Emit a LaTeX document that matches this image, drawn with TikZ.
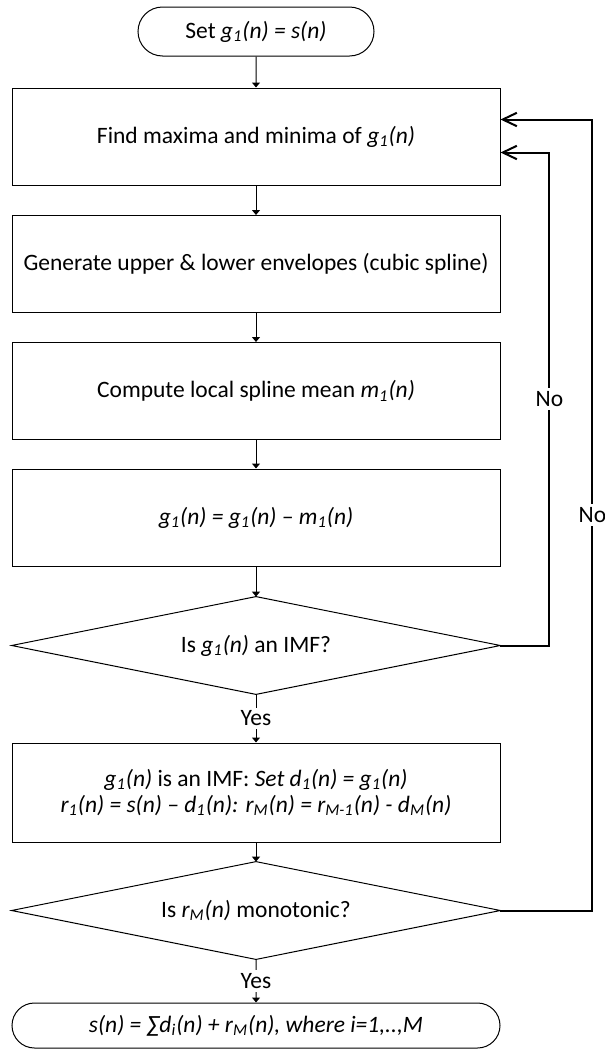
\documentclass[tikz,border=0pt]{standalone}
\usepackage{fontspec}
\setmainfont{Carlito}
\usetikzlibrary{arrows.meta,shapes.misc,calc}
\newcommand{\lsub}[1]{\textsubscript{#1}}
\begin{document}
\begin{tikzpicture}[x=0.5pt,y=-0.5pt,
  every node/.style={font=\fontsize{11.75}{13}\selectfont},
  box/.style={draw, line width=0.5pt, minimum width=244pt, minimum height=48.5pt, inner sep=0pt, align=center},
  term/.style={draw, line width=0.5pt, rounded rectangle, inner sep=0pt, align=center},
  dia/.style={inner sep=0pt, minimum width=244pt, minimum height=48.5pt, align=center},
  arr/.style={-{Triangle[width=4pt,length=2.5pt]}, line width=0.5pt},
  fb/.style={-{Straight Barb[length=7pt,width=6.7pt]}, line width=1pt},
  lbl/.style={fill=white, inner sep=1.5pt}
]
\useasboundingbox (0,0) rectangle (605,1050);
\node[term, minimum width=118pt, minimum height=24.5pt] (t1) at (256,31.5) {Set \textit{g\lsub{1}(n) = s(n)}};
\node[box] (b1) at (256,136.5) {Find maxima and minima of \textit{g\lsub{1}(n)}};
\node[box] (b2) at (256,264) {Generate upper \& lower envelopes (cubic spline)};
\node[box] (b3) at (256,391) {Compute local spline mean \textit{m\lsub{1}(n)}};
\node[box] (b4) at (256,517.5) {\textit{g\lsub{1}(n) = g\lsub{1}(n) – m\lsub{1}(n)}};
\node[dia] (d1) at (256,645.5) {Is \textit{g\lsub{1}(n)} an IMF?};
\draw[line width=0.5pt] (d1.north) -- (d1.east) -- (d1.south) -- (d1.west) -- cycle;
\node[box, minimum height=49.5pt] (b5) at (256,792.5) {\textit{g\lsub{1}(n)} is an IMF: \textit{Set d\lsub{1}(n) = g\lsub{1}(n)}\\
  \textit{r\lsub{1}(n) = s(n) – d\lsub{1}(n): r\lsub{M}(n) = r\lsub{M-1}(n) - d\lsub{M}(n)}};
\node[dia] (d2) at (256,910.5) {Is \textit{r\lsub{M}(n)} monotonic?};
\draw[line width=0.5pt] (d2.north) -- (d2.east) -- (d2.south) -- (d2.west) -- cycle;
\node[term, minimum width=244pt, minimum height=22.5pt] (t2) at (256,1025.5) {\textit{s(n) = ∑d\lsub{i}(n) + r\lsub{M}(n), where i=1,..,M}};
\draw[arr] (t1) -- (b1);
\draw[arr] (b1) -- (b2);
\draw[arr] (b2) -- (b3);
\draw[arr] (b3) -- (b4);
\draw[arr] (b4) -- (d1.north);
\draw[arr] (d1.south) -- node[lbl]{Yes} (b5);
\draw[arr] (b5) -- (d2.north);
\draw[arr] (d2.south) -- node[lbl]{Yes} (t2);
\draw[fb] (d1.east) -- ++(49,0) |- node[lbl,pos=0.25]{No} ([yshift=-8pt]b1.east);
\draw[fb] (d2.east) -- ++(92,0) |- node[lbl,pos=0.25]{No} ([yshift=8.5pt]b1.east);
\end{tikzpicture}
\end{document}
